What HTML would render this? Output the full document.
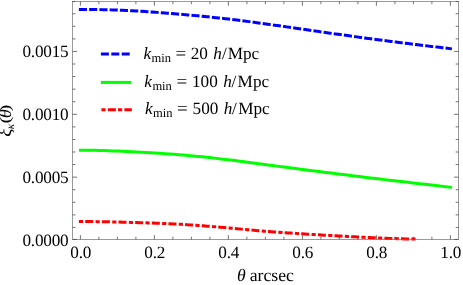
<!DOCTYPE html>
<html><head><meta charset="utf-8"><title>plot</title>
<style>
html,body{margin:0;padding:0;background:#fff;}
body{width:463px;height:285px;overflow:hidden;}
svg{display:block;will-change:transform;}
text{font-family:"Liberation Serif",serif;font-size:17.2px;fill:#000;text-rendering:geometricPrecision;}
</style></head><body>
<svg width="463" height="285" viewBox="0 0 463 285">
<rect x="0" y="0" width="463" height="285" fill="#fff"/>
<g fill="none" stroke-width="3" stroke-linecap="square" stroke-linejoin="round">
<path d="M80.40,9.45 L85.08,9.46 L89.77,9.49 L94.45,9.53 L99.13,9.60 L103.82,9.69 L108.50,9.80 L113.18,9.94 L117.87,10.10 L122.55,10.28 L127.24,10.49 L131.92,10.72 L136.60,10.98 L141.29,11.26 L145.97,11.57 L150.65,11.89 L155.34,12.23 L160.02,12.59 L164.70,12.95 L169.39,13.33 L174.07,13.72 L178.75,14.12 L183.44,14.52 L188.12,14.94 L192.81,15.36 L197.49,15.80 L202.17,16.25 L206.86,16.71 L211.54,17.19 L216.22,17.68 L220.91,18.19 L225.59,18.72 L230.27,19.27 L234.96,19.84 L239.64,20.42 L244.32,21.02 L249.01,21.64 L253.69,22.27 L258.37,22.90 L263.06,23.55 L267.74,24.20 L272.43,24.86 L277.11,25.52 L281.79,26.19 L286.48,26.86 L291.16,27.53 L295.84,28.21 L300.53,28.88 L305.21,29.56 L309.89,30.24 L314.58,30.91 L319.26,31.59 L323.94,32.26 L328.63,32.94 L333.31,33.60 L337.99,34.27 L342.68,34.93 L347.36,35.59 L352.05,36.24 L356.73,36.88 L361.41,37.52 L366.10,38.15 L370.78,38.78 L375.46,39.39 L380.15,40.01 L384.83,40.61 L389.51,41.21 L394.20,41.81 L398.88,42.40 L403.56,42.98 L408.25,43.57 L412.93,44.15 L417.62,44.72 L422.30,45.30 L426.98,45.87 L431.67,46.44 L436.35,47.00 L441.03,47.57 L445.72,48.13 L450.40,48.70" stroke="#0000ff" stroke-dasharray="5.1 5.15"/>
<path d="M80.40,150.20 L85.08,150.22 L89.77,150.26 L94.45,150.34 L99.13,150.44 L103.82,150.57 L108.50,150.72 L113.18,150.89 L117.87,151.07 L122.55,151.27 L127.24,151.49 L131.92,151.71 L136.60,151.95 L141.29,152.19 L145.97,152.45 L150.65,152.72 L155.34,153.01 L160.02,153.32 L164.70,153.64 L169.39,153.97 L174.07,154.33 L178.75,154.70 L183.44,155.10 L188.12,155.51 L192.81,155.94 L197.49,156.39 L202.17,156.86 L206.86,157.34 L211.54,157.85 L216.22,158.37 L220.91,158.91 L225.59,159.46 L230.27,160.03 L234.96,160.61 L239.64,161.21 L244.32,161.81 L249.01,162.42 L253.69,163.04 L258.37,163.66 L263.06,164.28 L267.74,164.90 L272.43,165.52 L277.11,166.13 L281.79,166.75 L286.48,167.36 L291.16,167.97 L295.84,168.58 L300.53,169.19 L305.21,169.79 L309.89,170.40 L314.58,170.99 L319.26,171.59 L323.94,172.19 L328.63,172.78 L333.31,173.36 L337.99,173.95 L342.68,174.53 L347.36,175.11 L352.05,175.69 L356.73,176.26 L361.41,176.83 L366.10,177.39 L370.78,177.96 L375.46,178.52 L380.15,179.07 L384.83,179.63 L389.51,180.18 L394.20,180.73 L398.88,181.28 L403.56,181.82 L408.25,182.36 L412.93,182.91 L417.62,183.45 L422.30,183.98 L426.98,184.52 L431.67,185.06 L436.35,185.59 L441.03,186.13 L445.72,186.67 L450.40,187.20" stroke="#00ff00"/>
<path d="M80.40,221.50 L84.64,221.51 L88.87,221.54 L93.11,221.58 L97.34,221.63 L101.58,221.70 L105.81,221.78 L110.05,221.87 L114.28,221.96 L118.52,222.07 L122.75,222.18 L126.99,222.29 L131.23,222.40 L135.46,222.52 L139.70,222.64 L143.93,222.76 L148.17,222.90 L152.40,223.04 L156.64,223.19 L160.87,223.35 L165.11,223.53 L169.34,223.72 L173.58,223.93 L177.82,224.15 L182.05,224.39 L186.29,224.65 L190.52,224.92 L194.76,225.21 L198.99,225.51 L203.23,225.83 L207.46,226.16 L211.70,226.50 L215.93,226.85 L220.17,227.21 L224.41,227.58 L228.64,227.96 L232.88,228.34 L237.11,228.74 L241.35,229.13 L245.58,229.52 L249.82,229.91 L254.05,230.29 L258.29,230.67 L262.52,231.03 L266.76,231.38 L270.99,231.71 L275.23,232.03 L279.47,232.34 L283.70,232.63 L287.94,232.91 L292.17,233.19 L296.41,233.45 L300.64,233.72 L304.88,233.98 L309.11,234.23 L313.35,234.49 L317.58,234.74 L321.82,234.99 L326.06,235.23 L330.29,235.48 L334.53,235.72 L338.76,235.96 L343.00,236.19 L347.23,236.42 L351.47,236.65 L355.70,236.87 L359.94,237.10 L364.17,237.31 L368.41,237.53 L372.65,237.73 L376.88,237.92 L381.12,238.09 L385.35,238.25 L389.59,238.39 L393.82,238.53 L398.06,238.65 L402.29,238.77 L406.53,238.88 L410.76,238.99 L415.00,239.10" stroke="#ff0000" stroke-dasharray="1.2 5.12 5.02 5.31"/>
</g>
<g stroke="#707070" stroke-width="0.7" fill="none">
<rect x="72.55" y="1.47" width="386.05" height="237.97"/>
</g>
<g stroke="#444" stroke-width="0.75" fill="none">
<line x1="80.40" x2="80.40" y1="239.44" y2="235.14"/><line x1="80.40" x2="80.40" y1="1.47" y2="5.77"/><line x1="98.90" x2="98.90" y1="239.44" y2="236.74"/><line x1="98.90" x2="98.90" y1="1.47" y2="4.17"/><line x1="117.40" x2="117.40" y1="239.44" y2="236.74"/><line x1="117.40" x2="117.40" y1="1.47" y2="4.17"/><line x1="135.90" x2="135.90" y1="239.44" y2="236.74"/><line x1="135.90" x2="135.90" y1="1.47" y2="4.17"/><line x1="154.40" x2="154.40" y1="239.44" y2="235.14"/><line x1="154.40" x2="154.40" y1="1.47" y2="5.77"/><line x1="172.90" x2="172.90" y1="239.44" y2="236.74"/><line x1="172.90" x2="172.90" y1="1.47" y2="4.17"/><line x1="191.40" x2="191.40" y1="239.44" y2="236.74"/><line x1="191.40" x2="191.40" y1="1.47" y2="4.17"/><line x1="209.90" x2="209.90" y1="239.44" y2="236.74"/><line x1="209.90" x2="209.90" y1="1.47" y2="4.17"/><line x1="228.40" x2="228.40" y1="239.44" y2="235.14"/><line x1="228.40" x2="228.40" y1="1.47" y2="5.77"/><line x1="246.90" x2="246.90" y1="239.44" y2="236.74"/><line x1="246.90" x2="246.90" y1="1.47" y2="4.17"/><line x1="265.40" x2="265.40" y1="239.44" y2="236.74"/><line x1="265.40" x2="265.40" y1="1.47" y2="4.17"/><line x1="283.90" x2="283.90" y1="239.44" y2="236.74"/><line x1="283.90" x2="283.90" y1="1.47" y2="4.17"/><line x1="302.40" x2="302.40" y1="239.44" y2="235.14"/><line x1="302.40" x2="302.40" y1="1.47" y2="5.77"/><line x1="320.90" x2="320.90" y1="239.44" y2="236.74"/><line x1="320.90" x2="320.90" y1="1.47" y2="4.17"/><line x1="339.40" x2="339.40" y1="239.44" y2="236.74"/><line x1="339.40" x2="339.40" y1="1.47" y2="4.17"/><line x1="357.90" x2="357.90" y1="239.44" y2="236.74"/><line x1="357.90" x2="357.90" y1="1.47" y2="4.17"/><line x1="376.40" x2="376.40" y1="239.44" y2="235.14"/><line x1="376.40" x2="376.40" y1="1.47" y2="5.77"/><line x1="394.90" x2="394.90" y1="239.44" y2="236.74"/><line x1="394.90" x2="394.90" y1="1.47" y2="4.17"/><line x1="413.40" x2="413.40" y1="239.44" y2="236.74"/><line x1="413.40" x2="413.40" y1="1.47" y2="4.17"/><line x1="431.90" x2="431.90" y1="239.44" y2="236.74"/><line x1="431.90" x2="431.90" y1="1.47" y2="4.17"/><line x1="450.40" x2="450.40" y1="239.44" y2="235.14"/><line x1="450.40" x2="450.40" y1="1.47" y2="5.77"/><line x1="72.55" x2="77.05" y1="239.44" y2="239.44"/><line x1="458.6" x2="454.10" y1="239.44" y2="239.44"/><line x1="72.55" x2="75.45" y1="227.43" y2="227.43"/><line x1="458.6" x2="455.70" y1="227.43" y2="227.43"/><line x1="72.55" x2="75.45" y1="214.86" y2="214.86"/><line x1="458.6" x2="455.70" y1="214.86" y2="214.86"/><line x1="72.55" x2="75.45" y1="202.29" y2="202.29"/><line x1="458.6" x2="455.70" y1="202.29" y2="202.29"/><line x1="72.55" x2="75.45" y1="189.72" y2="189.72"/><line x1="458.6" x2="455.70" y1="189.72" y2="189.72"/><line x1="72.55" x2="77.05" y1="177.15" y2="177.15"/><line x1="458.6" x2="454.10" y1="177.15" y2="177.15"/><line x1="72.55" x2="75.45" y1="164.58" y2="164.58"/><line x1="458.6" x2="455.70" y1="164.58" y2="164.58"/><line x1="72.55" x2="75.45" y1="152.01" y2="152.01"/><line x1="458.6" x2="455.70" y1="152.01" y2="152.01"/><line x1="72.55" x2="75.45" y1="139.44" y2="139.44"/><line x1="458.6" x2="455.70" y1="139.44" y2="139.44"/><line x1="72.55" x2="75.45" y1="126.87" y2="126.87"/><line x1="458.6" x2="455.70" y1="126.87" y2="126.87"/><line x1="72.55" x2="77.05" y1="114.30" y2="114.30"/><line x1="458.6" x2="454.10" y1="114.30" y2="114.30"/><line x1="72.55" x2="75.45" y1="101.73" y2="101.73"/><line x1="458.6" x2="455.70" y1="101.73" y2="101.73"/><line x1="72.55" x2="75.45" y1="89.16" y2="89.16"/><line x1="458.6" x2="455.70" y1="89.16" y2="89.16"/><line x1="72.55" x2="75.45" y1="76.59" y2="76.59"/><line x1="458.6" x2="455.70" y1="76.59" y2="76.59"/><line x1="72.55" x2="75.45" y1="64.02" y2="64.02"/><line x1="458.6" x2="455.70" y1="64.02" y2="64.02"/><line x1="72.55" x2="77.05" y1="51.45" y2="51.45"/><line x1="458.6" x2="454.10" y1="51.45" y2="51.45"/><line x1="72.55" x2="75.45" y1="38.88" y2="38.88"/><line x1="458.6" x2="455.70" y1="38.88" y2="38.88"/><line x1="72.55" x2="75.45" y1="26.31" y2="26.31"/><line x1="458.6" x2="455.70" y1="26.31" y2="26.31"/><line x1="72.55" x2="75.45" y1="13.74" y2="13.74"/><line x1="458.6" x2="455.70" y1="13.74" y2="13.74"/><line x1="72.55" x2="75.45" y1="1.47" y2="1.47"/><line x1="458.6" x2="455.70" y1="1.47" y2="1.47"/>
</g>
<g><text x="70.35" y="258.0" letter-spacing="-0.2">0.0</text><text x="144.35" y="258.0" letter-spacing="-0.2">0.2</text><text x="218.35" y="258.0" letter-spacing="-0.2">0.4</text><text x="292.35" y="258.0" letter-spacing="-0.2">0.6</text><text x="366.35" y="258.0" letter-spacing="-0.2">0.8</text><text x="440.35" y="258.0" letter-spacing="-0.2">1.0</text><text x="22.45" y="245.5" letter-spacing="-0.2">0.0000</text><text x="22.45" y="183.0" letter-spacing="-0.2">0.0005</text><text x="22.45" y="120.0" letter-spacing="-0.2">0.0010</text><text x="22.45" y="57.25" letter-spacing="-0.2">0.0015</text></g>
<text y="281.4" style="font-size:17.7px"><tspan x="237.0" font-style="italic">θ</tspan><tspan x="249.7">arcsec</tspan></text>
<text transform="translate(10.5,136.8) rotate(-90)" style="font-size:17.7px"><tspan x="0.1" font-style="italic" font-size="19">ξ</tspan><tspan x="7.6" font-style="italic" font-size="11.5" dy="3.1">κ</tspan><tspan x="18.75" dy="-3.1" font-style="italic">θ</tspan></text>
<text transform="translate(10.4,123.6) rotate(-90) scale(1.2,0.88)">(</text>
<text transform="translate(10.4,111.4) rotate(-90) scale(1.2,0.88)">)</text>
<g fill="none" stroke-width="3" stroke-linecap="square">
<line x1="102.4" x2="129.75" y1="53.9" y2="53.9" stroke="#0000ff" stroke-dasharray="5.0 5.4"/>
<line x1="102.4" x2="129.75" y1="82.4" y2="82.4" stroke="#00ff00"/>
<line x1="102.9" x2="130.3" y1="109.8" y2="109.8" stroke="#ff0000" stroke-dasharray="1.2 5.2 5.1 5.1"/>
</g>
<text y="58.7"><tspan x="143.6" font-style="italic">k</tspan><tspan x="151.6" font-size="12.5" dy="3.6">min</tspan><tspan x="175.6" dy="-3.6" textLength="10.7" lengthAdjust="spacingAndGlyphs">=</tspan><tspan x="190.7">20</tspan><tspan x="213.3" font-style="italic">h</tspan><tspan x="221.9">/</tspan><tspan x="227.7">Mpc</tspan></text>
<text y="86.7"><tspan x="144.2" font-style="italic">k</tspan><tspan x="152.4" font-size="12.5" dy="3.6">min</tspan><tspan x="176.4" dy="-3.6" textLength="10.7" lengthAdjust="spacingAndGlyphs">=</tspan><tspan x="192.0">100</tspan><tspan x="223.3" font-style="italic">h</tspan><tspan x="231.4">/</tspan><tspan x="237.6">Mpc</tspan></text>
<text y="113.5"><tspan x="145.0" font-style="italic">k</tspan><tspan x="153.0" font-size="12.5" dy="3.6">min</tspan><tspan x="177.0" dy="-3.6" textLength="10.7" lengthAdjust="spacingAndGlyphs">=</tspan><tspan x="192.6">500</tspan><tspan x="223.8" font-style="italic">h</tspan><tspan x="232.1">/</tspan><tspan x="238.2">Mpc</tspan></text>
</svg>
</body></html>
